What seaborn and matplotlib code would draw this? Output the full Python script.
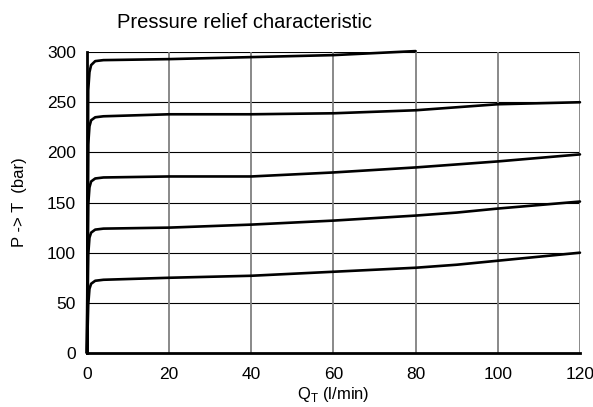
import matplotlib
matplotlib.use("Agg")
import matplotlib.pyplot as plt
import seaborn as sns
import pandas as pd

# Flow (l/min) and pressure (bar) for each relief setting
flow_80 = [0, 0.3, 0.6, 1.0, 2.0, 4.0, 20, 40, 60, 70, 80]
p_300 = [0, 262, 280, 287, 291, 292, 293, 295, 297, 299, 301]

flow_120 = [0, 0.3, 0.6, 1.0, 2.0, 4.0, 20, 40, 60, 80, 90, 100, 120]
p_250 = [0, 208, 226, 232, 235, 236, 238, 238, 239, 242, 245, 248, 250]
p_200 = [0, 148, 165, 171, 174, 175, 176, 176, 180, 185, 188, 191, 198]
p_150 = [0, 98, 115, 120, 123, 124, 125, 128, 132, 137, 140, 144, 151]
p_100 = [0, 48, 64, 69, 72, 73, 75, 77, 81, 85, 88, 92, 100]

x_ticks = [0, 20, 40, 60, 80, 100, 120]
y_ticks = [0, 50, 100, 150, 200, 250, 300]

frames = [pd.DataFrame({"Q": flow_80, "P": p_300, "setting": "300"})]
for name, vals in [("250", p_250), ("200", p_200), ("150", p_150), ("100", p_100)]:
    frames.append(pd.DataFrame({"Q": flow_120, "P": vals, "setting": name}))
df = pd.concat(frames, ignore_index=True)

sns.set_theme(style="white")
plt.rcParams["font.family"] = ["Liberation Sans", "DejaVu Sans"]

fig = plt.figure(figsize=(5.93, 4.07), dpi=100)
ax = fig.add_axes([0.1467, 0.1327, 0.978 - 0.1467, 0.872 - 0.1327])

sns.lineplot(data=df, x="Q", y="P", units="setting", estimator=None,
             color="black", linewidth=1.9, sort=False, ax=ax, legend=False)
for line in ax.get_lines():
    line.set_clip_on(False)

ax.set_xlim(0, 120)
ax.set_ylim(0, 300)
ax.set_xticks(x_ticks)
ax.set_yticks(y_ticks)
ax.tick_params(axis="y", labelsize=12.5, length=0, pad=8, colors="black")
ax.tick_params(axis="x", labelsize=12.5, length=0, pad=10, colors="black")

for y in y_ticks[1:]:
    ax.axhline(y, color="black", linewidth=0.8, zorder=0)
for x in x_ticks[1:]:
    ax.axvline(x, color="#808080", linewidth=1.3, zorder=0)

for side in ["top", "right"]:
    ax.spines[side].set_visible(False)
for side in ["left", "bottom"]:
    ax.spines[side].set_color("black")
    ax.spines[side].set_linewidth(2.0)

ax.set_xlabel(r"Q$_\mathregular{T}$ (l/min)", fontsize=12, labelpad=2, color="black")
ax.set_ylabel("P -> T  (bar)", fontsize=12, labelpad=14, color="black")
fig.text(0.197, 0.945, "Pressure relief characteristic", fontsize=14.5,
         color="black", va="center", ha="left")

fig.savefig("out.png", dpi=100, facecolor="white")
